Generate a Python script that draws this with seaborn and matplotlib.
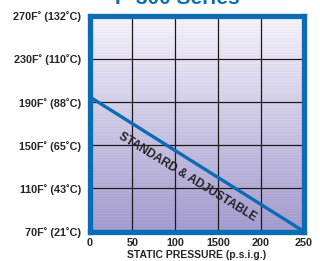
import matplotlib
matplotlib.use('Agg')
import matplotlib.pyplot as plt
import seaborn as sns
import numpy as np
import pandas as pd

BLUE = '#0b6cb6'

# chart data
pressure = [0, 250]
temp_f = [195, 70]
y_ticks = [70, 110, 150, 190, 230, 270]
y_labels = ['70F˚ (21˚C)', '110F˚ (43˚C)', '150F˚ (65˚C)',
            '190F˚ (88˚C)', '230F˚ (110˚C)', '270F˚ (132˚C)']
x_ticks = [0, 50, 100, 150, 200, 250]
x_labels = ['0', '50', '100', '1500', '200', '250']

sns.set_theme(style='white')
plt.rcParams['font.family'] = ['Liberation Sans', 'DejaVu Sans']

fig = plt.figure(figsize=(3.2, 2.61), dpi=100)
ax = fig.add_axes([0.28, 0.113, 0.67, 0.826])

# lavender gradient background with faint horizontal stripes
rows = 220
t = np.linspace(0, 1, rows)
stripe = 0.025 * (np.arange(rows) % 3 == 0)
top = np.array([0.95, 0.94, 0.97])
bot = np.array([0.63, 0.60, 0.80])
grad = top[None, :] * (1 - t[:, None]) + bot[None, :] * t[:, None]
grad = np.clip(grad + stripe[:, None], 0, 1)
ax.imshow(grad[:, None, :], extent=[0, 250, 70, 270], aspect='auto',
          origin='upper', zorder=0)

df = pd.DataFrame({'pressure': pressure, 'temp': temp_f})
sns.lineplot(data=df, x='pressure', y='temp', ax=ax, color=BLUE,
             linewidth=2.4, zorder=3, solid_capstyle='butt')

ax.set_xlim(0, 250)
ax.set_ylim(70, 270)
ax.set_xticks(x_ticks)
ax.set_xticklabels(x_labels, fontsize=7.8, fontweight='bold')
ax.set_yticks(y_ticks)
ax.set_yticklabels(y_labels, fontsize=7.8, fontweight='bold')
ax.tick_params(length=0, pad=6)
ax.tick_params(axis='x', pad=5)
ax.grid(True, color='#1a1a1a', linewidth=0.9, zorder=1)
ax.set_axisbelow(False)
for spine in ax.spines.values():
    spine.set_color(BLUE)
    spine.set_linewidth(3.8)
    spine.set_zorder(4)

ax.set_xlabel('STATIC PRESSURE (p.s.i.g.)', fontsize=7.5, fontweight='bold',
              labelpad=1)
ax.set_ylabel('')

ax.text(114, 121, 'STANDARD & ADJUSTABLE', rotation=-31.5, fontsize=8.6,
        fontweight='bold', color='#222222', ha='center', va='center',
        rotation_mode='anchor', zorder=3)

fig.text(0.553, 1 - 3.5 / 261, 'P-300 Series', ha='center', va='baseline',
         fontsize=15, fontweight='bold', color=BLUE)

fig.savefig('out.png', dpi=100)
